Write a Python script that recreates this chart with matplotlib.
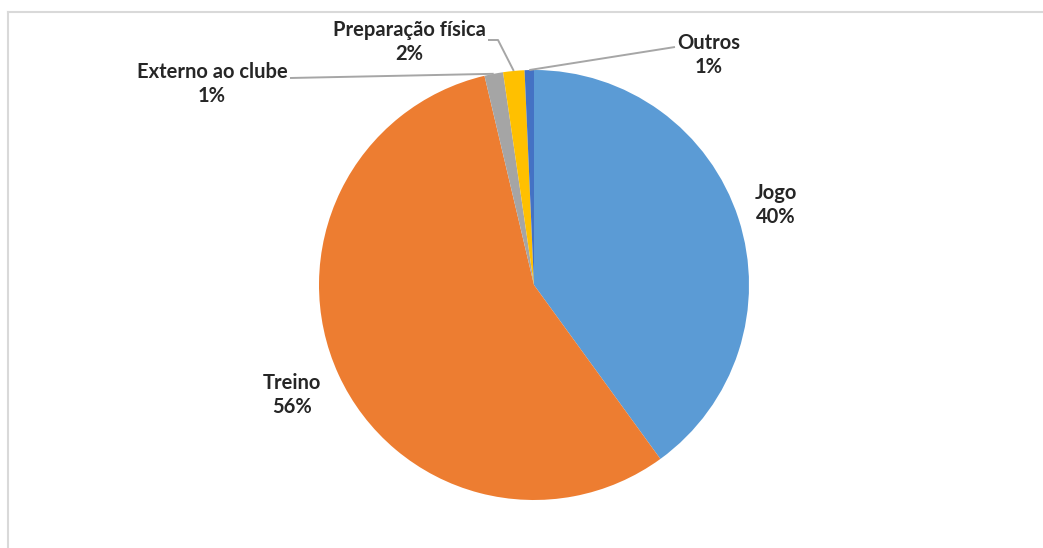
"""Taartdiagram: verdeling per contexto (Jogo, Treino, ...)."""
import matplotlib.pyplot as plt
from matplotlib.lines import Line2D
import numpy as np

categorias = ["Jogo", "Treino", "Externo ao clube", "Preparação física", "Outros"]
valores = [40.0, 56.3, 1.4, 1.6, 0.7]
cores = ["#5B9BD5", "#ED7D31", "#A5A5A5", "#FFC000", "#4472C4"]

W, H = 1043, 548
CX, CY, R = 534, 285, 215  # pixels, y van boven

# labelposities (pixels, y van boven) en knikpunten van de verbindingslijnen
label_pos = {
    "Jogo": (776, 205),
    "Treino": (292, 395),
    "Externo ao clube": (212, 84),
    "Preparação física": (409, 42),
    "Outros": (709, 55),
}
leader = {
    "Externo ao clube": [(290, 78)],
    "Preparação física": [(488, 40), (498, 40)],
    "Outros": [(675, 47)],
}

plt.rcParams["font.family"] = ["Lato", "DejaVu Sans"]

fig = plt.figure(figsize=(W / 100, H / 100), dpi=100)
ax = fig.add_axes([0, 0, 1, 1])

wedges, _ = ax.pie(valores, colors=cores, startangle=90, counterclock=False,
                   center=(CX, H - CY), radius=R,
                   wedgeprops=dict(linewidth=0))
ax.set_xlim(0, W)
ax.set_ylim(0, H)
ax.set_aspect("equal")
ax.axis("off")

totaal = sum(valores)
for wedge, naam, val in zip(wedges, categorias, valores):
    lx, ly = label_pos[naam]
    ax.text(lx, H - ly, f"{naam}\n{val / totaal * 100:.0f}%", ha="center", va="center",
            fontsize=14.5, fontweight="bold", color="#262626", linespacing=1.25)
    if naam in leader:
        hoek = np.deg2rad((wedge.theta1 + wedge.theta2) / 2)
        px = CX + R * np.cos(hoek)
        py = (H - CY) + R * np.sin(hoek)
        punten = [(x, H - y) for x, y in leader[naam]] + [(px, py)]
        xs, ys = zip(*punten)
        ax.plot(xs, ys, color="#A6A6A6", linewidth=1.4, solid_capstyle="butt")

# lichtgrijze kaderrand links en boven
fig.add_artist(Line2D([7.5 / W, 7.5 / W], [0, 1 - 11.5 / H], color="#D9D9D9", linewidth=1.5))
fig.add_artist(Line2D([7.5 / W, 1], [1 - 11.5 / H, 1 - 11.5 / H], color="#D9D9D9", linewidth=1.5))

fig.savefig("out.png", dpi=100)
